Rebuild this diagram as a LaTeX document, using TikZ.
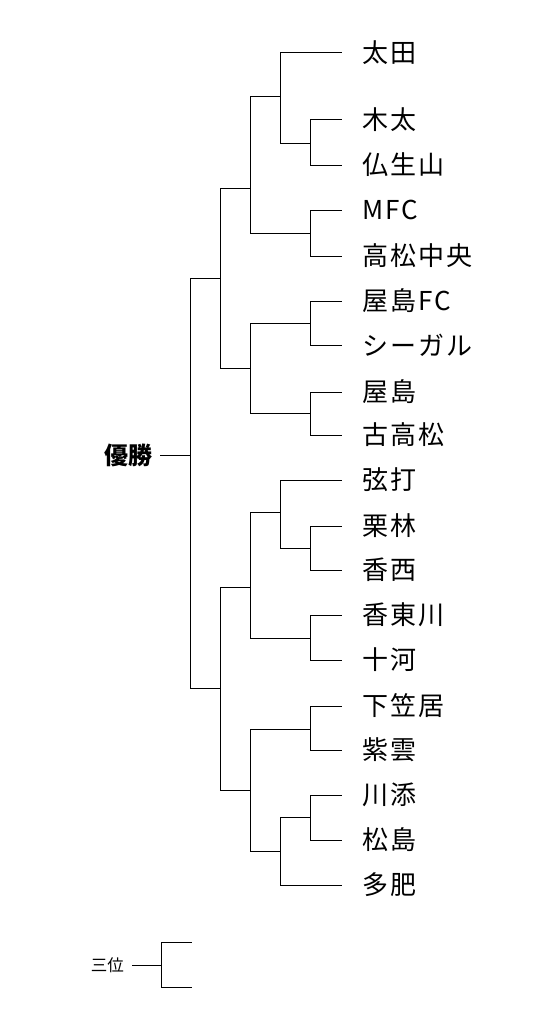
\documentclass[tikz,border=0pt]{standalone}
\usepackage{fontspec}
\setmainfont{Noto Sans CJK JP}
\newfontfamily\leaffont[LetterSpace=8]{Noto Sans CJK JP}
\begin{document}
\begin{tikzpicture}[x=1pt,y=-1pt,
  br/.style={line width=1pt,draw=black},
  leaf/.style={anchor=west,inner sep=0pt,font=\leaffont\fontsize{26}{26}\selectfont},
  ttl/.style={anchor=east,inner sep=0pt,font=\bfseries\fontsize{24}{24}\selectfont},
  ttl3/.style={anchor=east,inner sep=0pt,font=\fontsize{16.5}{16.5}\selectfont}]
\useasboundingbox[fill=white] (0,0) rectangle (540,1030);
% leaves
\foreach \n/\y/\t in {1/53/太田,2/120/木太,3/165/仏生山,4/210/MFC,5/256/高松中央,6/301/屋島FC,7/345/シーガル,8/392/屋島,9/435/古高松,10/480/弦打,11/526/栗林,12/570/香西,13/615/香東川,14/660/十河,15/706/下笠居,16/750/紫雲,17/795/川添,18/840/松島,19/885/多肥}{
  \node[leaf] (l\n) at (362,\y) {\t};
  \coordinate (e\n) at (342,\y);
}
% internal joints
\coordinate (R) at (190,455);
\coordinate (A) at (220,278);
\coordinate (A1) at (250,188);
\coordinate (A11) at (280,97);
\coordinate (A112) at (310,143);
\coordinate (A12) at (310,233);
\coordinate (A2) at (250,368);
\coordinate (A21) at (310,323);
\coordinate (A22) at (310,413);
\coordinate (B) at (220,688);
\coordinate (B1) at (250,587);
\coordinate (B11) at (280,512);
\coordinate (B112) at (310,548);
\coordinate (B12) at (310,638);
\coordinate (B2) at (250,790);
\coordinate (B21) at (310,729);
\coordinate (B22) at (280,851);
\coordinate (B221) at (310,817);
% title
\node[ttl] (win) at (153,455) {優勝};
\coordinate (winr) at (160,455);
\draw[br] (winr) -- (R);
% brackets
\draw[br] (R) |- (A);  \draw[br] (R) |- (B);
\draw[br] (A) |- (A1); \draw[br] (A) |- (A2);
\draw[br] (A1) |- (A11); \draw[br] (A1) |- (A12);
\draw[br] (A11) |- (e1); \draw[br] (A11) |- (A112);
\draw[br] (A112) |- (e2); \draw[br] (A112) |- (e3);
\draw[br] (A12) |- (e4); \draw[br] (A12) |- (e5);
\draw[br] (A2) |- (A21); \draw[br] (A2) |- (A22);
\draw[br] (A21) |- (e6); \draw[br] (A21) |- (e7);
\draw[br] (A22) |- (e8); \draw[br] (A22) |- (e9);
\draw[br] (B) |- (B1); \draw[br] (B) |- (B2);
\draw[br] (B1) |- (B11); \draw[br] (B1) |- (B12);
\draw[br] (B11) |- (e10); \draw[br] (B11) |- (B112);
\draw[br] (B112) |- (e11); \draw[br] (B112) |- (e12);
\draw[br] (B12) |- (e13); \draw[br] (B12) |- (e14);
\draw[br] (B2) |- (B21); \draw[br] (B2) |- (B22);
\draw[br] (B21) |- (e15); \draw[br] (B21) |- (e16);
\draw[br] (B22) |- (B221); \draw[br] (B22) |- (e19);
\draw[br] (B221) |- (e17); \draw[br] (B221) |- (e18);
% third place
\node[ttl3] (third) at (124,965) {三位};
\coordinate (thr) at (132,965);
\coordinate (T) at (161,965);
\coordinate (t1) at (192,942);
\coordinate (t2) at (192,987);
\draw[br] (thr) -- (T);
\draw[br] (T) |- (t1); \draw[br] (T) |- (t2);
\end{tikzpicture}
\end{document}
